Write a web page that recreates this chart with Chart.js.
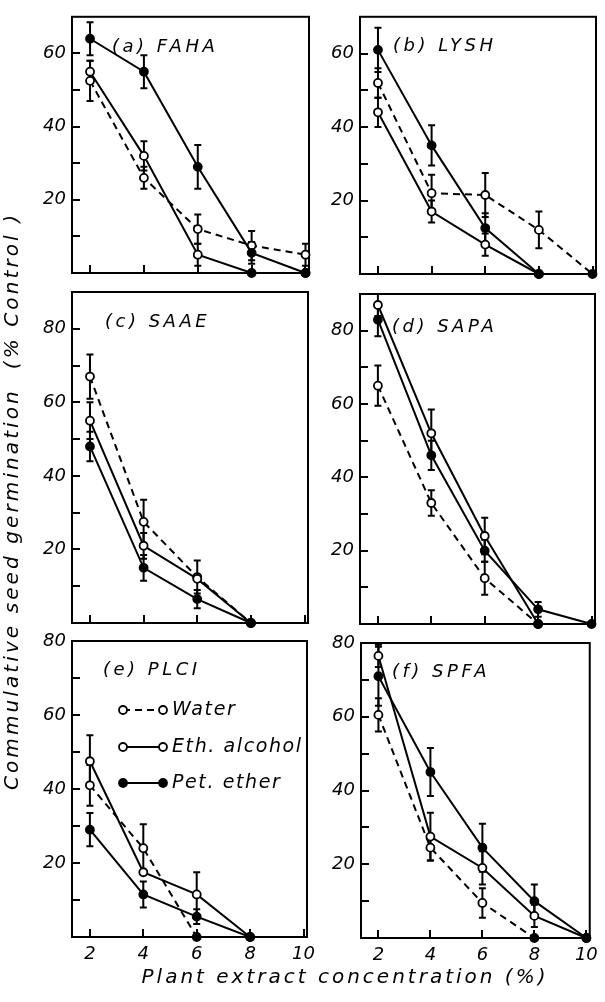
<!DOCTYPE html>
<html><head><meta charset="utf-8">
<script src="https://cdn.jsdelivr.net/npm/chart.js@4.4.1/dist/chart.umd.min.js"></script>
<style>
html,body{margin:0;padding:0;background:#fff;overflow:hidden}
#wrap{position:relative;width:605px;height:1002px;background:#fff}
canvas{position:absolute;left:0;top:0}
</style></head><body><div id="wrap"></div>
<script>
// ---------------- DATA ----------------
const conc = [2, 4, 6, 8, 10];
const seriesNames = ['Water', 'Eth. alcohol', 'Pet. ether'];
const panelTitles = ['(a) FAHA', '(b) LYSH', '(c) SAAE', '(d) SAPA', '(e) PLCI', '(f) SPFA'];
const yMaxes = [70, 70, 90, 90, 80, 80];
const xTickValues = [2, 4, 6, 8, 10];
const yTitle = 'Commulative seed germination  (% Control )';
const xTitle = 'Plant extract concentration (%)';

// (a) FAHA
const waterA = [52.5, 26, 12, 7.5, 5];
const ethA   = [55, 32, 5, 0, 0];
const petA   = [64, 55, 29, 5.5, 0];
const waterErrA = [5.5, 3, 4, 4, 3];
const ethErrA   = [3, 4, 3, 0, 0];
const petErrA   = [4.5, 4.5, 6, 3, 0];
// (b) LYSH
const waterB = [52, 22, 21.5, 12, 0];
const ethB   = [44, 17, 8, 0, null];
const petB   = [61, 35, 12.5, 0, null];
const waterErrB = [4, 5, 6, 5, 0];
const ethErrB   = [4, 3, 3, 0, 0];
const petErrB   = [6, 5.5, 4, 0, 0];
// (c) SAAE
const waterC = [67, 27.5, 12.5, 0, null];
const ethC   = [55, 21, 12, 0, null];
const petC   = [48, 15, 6.5, 0, null];
const waterErrC = [6, 6, 4.5, 0, 0];
const ethErrC   = [5, 3.5, 0, 0, 0];
const petErrC   = [4, 3.5, 2.5, 0, 0];
// (d) SAPA
const waterD = [65, 33, 12.5, 0, null];
const ethD   = [87, 52, 24, 0, null];
const petD   = [83, 46, 20, 4, 0];
const waterErrD = [5.5, 3.5, 4.5, 0, 0];
const ethErrD   = [3, 6.5, 5, 0, 0];
const petErrD   = [4.5, 4, 3, 2, 0];
// (e) PLCI
const waterE = [41, 24, 0, null, null];
const ethE   = [47.5, 17.5, 11.5, 0, null];
const petE   = [29, 11.5, 5.5, 0, null];
const waterErrE = [5.5, 6.5, 0, 0, 0];
const ethErrE   = [7, 0, 6, 0, 0];
const petErrE   = [4.5, 3.5, 2, 0, 0];
// (f) SPFA
const waterF = [60.5, 24.5, 9.5, 0, null];
const ethF   = [76.5, 27.5, 19, 6, 0];
const petF   = [71, 45, 24.5, 10, 0];
const waterErrF = [4.5, 3.5, 4, 0, 0];
const ethErrF   = [3, 6.5, 4.5, 3, 0];
const petErrF   = [8, 6.5, 6.5, 4.5, 0];

const panelValues = [
  [waterA, ethA, petA], [waterB, ethB, petB], [waterC, ethC, petC],
  [waterD, ethD, petD], [waterE, ethE, petE], [waterF, ethF, petF]
];
const panelErrors = [
  [waterErrA, ethErrA, petErrA], [waterErrB, ethErrB, petErrB], [waterErrC, ethErrC, petErrC],
  [waterErrD, ethErrD, petErrD], [waterErrE, ethErrE, petErrE], [waterErrF, ethErrF, petErrF]
];

// ---------------- LAYOUT / STYLE ----------------
const W = 605, H = 1002;
const boxes = [
  {l: 72,  t: 12,  r: 309, b: 273, showX: false, tx: 40, ty: 35},
  {l: 360, t: 14,  r: 596, b: 274, showX: false, tx: 33, ty: 34},
  {l: 72,  t: 292, r: 308, b: 623, showX: false, tx: 33, ty: 35},
  {l: 360, t: 294, r: 595, b: 624, showX: false, tx: 32, ty: 38},
  {l: 72,  t: 641, r: 307, b: 937, showX: true,  tx: 31, ty: 34, legend: true},
  {l: 361, t: 643, r: 593, b: 938, showX: true,  tx: 31, ty: 34}
];
const FAM = '"DejaVu Sans", sans-serif';
const tickFont = {family: FAM, size: 18, style: 'italic'};
const styles = [
  {dash: [7, 5], fill: '#fff'},
  {dash: [], fill: '#fff'},
  {dash: [], fill: '#000'}
];
const Wy = 50, Hx = 34;

const wrap = document.getElementById('wrap');

const framePlugin = {
  id: 'frame',
  beforeDatasetsDraw(chart) {
    const {ctx, chartArea: a, scales} = chart;
    ctx.save();
    ctx.strokeStyle = '#000';
    ctx.lineWidth = 2;
    ctx.strokeRect(a.left, a.top, a.right - a.left, a.bottom - a.top);
    ctx.beginPath();
    scales.y.ticks.forEach(t => {
      if (t.value <= scales.y.min || t.value >= scales.y.max) return;
      const y = Math.round(scales.y.getPixelForValue(t.value));
      ctx.moveTo(a.left, y); ctx.lineTo(a.left + 8, y);
    });
    scales.x.ticks.forEach(t => {
      const x = Math.round(scales.x.getPixelForValue(t.value));
      ctx.moveTo(x, a.bottom); ctx.lineTo(x, a.bottom - 8);
    });
    ctx.stroke();
    ctx.restore();
  }
};

const errorPlugin = {
  id: 'errbars',
  beforeDatasetsDraw(chart) {
    const {ctx, scales} = chart;
    ctx.save();
    ctx.strokeStyle = '#000';
    ctx.lineWidth = 2;
    chart.data.datasets.forEach(ds => {
      ds.data.forEach((pt, i) => {
        const e = ds.errors[i];
        if (pt.y === null || !e) return;
        const x = scales.x.getPixelForValue(pt.x);
        const y1 = scales.y.getPixelForValue(pt.y + e);
        const y2 = scales.y.getPixelForValue(Math.max(0, pt.y - e));
        ctx.beginPath();
        ctx.moveTo(x, y1); ctx.lineTo(x, y2);
        ctx.moveTo(x - 3.5, y1); ctx.lineTo(x + 3.5, y1);
        ctx.moveTo(x - 3.5, y2); ctx.lineTo(x + 3.5, y2);
        ctx.stroke();
      });
    });
    ctx.restore();
  }
};

function fitText(ctx, text, target) {
  ctx.letterSpacing = '0px';
  const w0 = ctx.measureText(text).width;
  const sp = (target - w0) / (text.length - 1);
  ctx.letterSpacing = sp.toFixed(2) + 'px';
}

const textPlugin = {
  id: 'texts',
  afterDraw(chart) {
    const {ctx, chartArea: a} = chart;
    const o = chart.options.plugins.texts;
    ctx.save();
    ctx.fillStyle = '#000';
    ctx.font = 'italic 18px ' + FAM;
    ctx.letterSpacing = '3.5px';
    ctx.textBaseline = 'alphabetic';
    ctx.textAlign = 'left';
    ctx.fillText(o.title, a.left + o.tx, a.top + o.ty);
    if (o.legend) {
      ctx.font = 'italic 19px ' + FAM;
      ctx.letterSpacing = '1.6px';
      ctx.textBaseline = 'middle';
      const ys = [a.top + 69, a.top + 106, a.top + 142];
      chart.data.datasets.forEach((ds, i) => {
        const y = ys[i];
        const x1 = a.left + 51, x2 = a.left + 91;
        ctx.save();
        ctx.lineWidth = 2;
        ctx.setLineDash(ds.borderDash || []);
        ctx.beginPath(); ctx.moveTo(x1, y); ctx.lineTo(x2, y); ctx.stroke();
        ctx.setLineDash([]);
        [x1, x2].forEach(x => {
          ctx.beginPath(); ctx.arc(x, y, 4, 0, Math.PI * 2);
          ctx.fillStyle = styles[i].fill; ctx.fill();
          ctx.lineWidth = 1.8; ctx.stroke();
        });
        ctx.restore();
        ctx.fillText(seriesNames[i], a.left + 100, y);
      });
    }
    if (o.axisTitles) {
      ctx.textAlign = 'center';
      ctx.textBaseline = 'alphabetic';
      ctx.font = 'italic 20px ' + FAM;
      fitText(ctx, xTitle, 404);
      ctx.fillText(xTitle, 345, 983);
      ctx.save();
      ctx.translate(18, 501);
      ctx.rotate(-Math.PI / 2);
      ctx.font = 'italic 20px ' + FAM;
      fitText(ctx, yTitle, 575);
      ctx.fillText(yTitle, 0, 0);
      ctx.restore();
    }
    ctx.restore();
  }
};

boxes.forEach((p, k) => {
  const c = document.createElement('canvas');
  c.width = W; c.height = H;
  wrap.appendChild(c);
  const datasets = panelValues[k].map((vals, i) => ({
    label: seriesNames[i],
    data: conc.map((x, j) => ({x: x, y: vals[j]})),
    errors: panelErrors[k][i],
    borderColor: '#000',
    borderWidth: 2,
    borderDash: styles[i].dash,
    pointRadius: 4,
    pointBorderWidth: 1.8,
    pointBorderColor: '#000',
    pointBackgroundColor: ctx => (ctx.raw && ctx.raw.y === 0) ? '#000' : styles[i].fill,
    tension: 0,
    clip: false,
    order: 3 - i
  }));
  new Chart(c, {
    type: 'line',
    data: {datasets},
    options: {
      responsive: false,
      animation: false,
      devicePixelRatio: 1,
      layout: {autoPadding: false, padding: {left: p.l - Wy, top: p.t, right: W - p.r, bottom: H - p.b - Hx}},
      plugins: {
        legend: {display: false},
        tooltip: {enabled: false},
        texts: {title: panelTitles[k], tx: p.tx, ty: p.ty, legend: !!p.legend, axisTitles: k === 4}
      },
      scales: {
        x: {
          type: 'linear', min: 1.33, max: 10.13,
          afterBuildTicks: s => { s.ticks = xTickValues.map(v => ({value: v})); },
          afterFit: s => { s.height = Hx; },
          grid: {display: false, drawTicks: false},
          border: {display: false},
          ticks: {display: p.showX, padding: 7, font: tickFont, color: '#000', maxRotation: 0, autoSkip: false}
        },
        y: {
          min: 0, max: yMaxes[k],
          afterFit: s => { s.width = Wy; },
          grid: {display: false, drawTicks: false},
          border: {display: false},
          ticks: {stepSize: 10, padding: 6, font: tickFont, color: '#000',
            callback: v => (v > 0 && v % 20 === 0) ? String(v) : ''}
        }
      }
    },
    plugins: [framePlugin, errorPlugin, textPlugin]
  });
});
</script></body></html>
